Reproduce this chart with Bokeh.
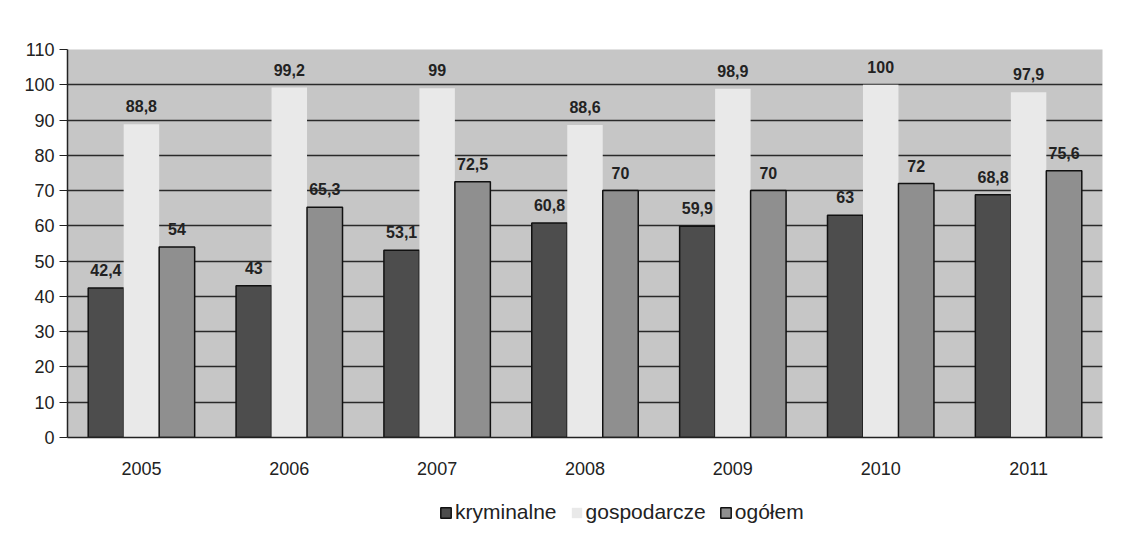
from bokeh.plotting import figure
from bokeh.layouts import column
from bokeh.models import ColumnDataSource, Legend, LegendItem, LabelSet, FixedTicker
from bokeh.core.properties import value
from bokeh.transform import dodge
from bokeh.embed import file_html
from bokeh.resources import INLINE

years = ["2005", "2006", "2007", "2008", "2009", "2010", "2011"]
kryminalne = [42.4, 43, 53.1, 60.8, 59.9, 63, 68.8]
gospodarcze = [88.8, 99.2, 99, 88.6, 98.9, 100, 97.9]
ogolem = [54, 65.3, 72.5, 70, 70, 72, 75.6]
series_names = ["kryminalne", "gospodarcze", "ogółem"]

def fmt(v):
    return ("%g" % v).replace(".", ",")

src = ColumnDataSource(dict(
    years=years,
    k=kryminalne, g=gospodarcze, o=ogolem,
    kl=[fmt(v) for v in kryminalne],
    gl=[fmt(v) for v in gospodarcze],
    ol=[fmt(v) for v in ogolem],
))

K_STYLE = dict(fill_color="#4d4d4d", line_color="#111111", line_width=1.5)
G_STYLE = dict(fill_color="#e9e9e9", line_color=None)
O_STYLE = dict(fill_color="#8f8f8f", line_color="#111111", line_width=1.5)

p = figure(x_range=years, y_range=(0, 110), width=1105, height=477,
           output_backend="svg", toolbar_location=None,
           border_fill_color="#ffffff",
           min_border_left=67, min_border_right=3, min_border_top=49,
           min_border_bottom=40)

p.background_fill_color = "#c6c6c6"
p.outline_line_color = None

w = 0.24
off = 0.24
p.vbar(x=dodge("years", -off, range=p.x_range), top="k", width=w, source=src, **K_STYLE)
p.vbar(x=dodge("years", 0, range=p.x_range), top="g", width=w, source=src, **G_STYLE)
p.vbar(x=dodge("years", off, range=p.x_range), top="o", width=w, source=src, **O_STYLE)

for col, lab, dx in (("k", "kl", -off), ("g", "gl", 0), ("o", "ol", off)):
    p.add_layout(LabelSet(x=dodge("years", dx, range=p.x_range), y=col, text=lab,
                          source=src, text_align="center", y_offset=12,
                          text_font=value("Liberation Sans"), text_font_style="bold",
                          text_font_size="16px", text_color="#222222"))

p.yaxis.ticker = FixedTicker(ticks=list(range(0, 111, 10)))
p.ygrid.ticker = FixedTicker(ticks=list(range(0, 111, 10)))
p.ygrid.grid_line_color = "#2a2a2a"
p.ygrid.grid_line_width = 1.5
p.xgrid.grid_line_color = None

for ax in (p.xaxis, p.yaxis):
    ax.major_label_text_font = "Liberation Sans"
    ax.major_label_text_font_size = "18px"
    ax.major_label_text_color = "#222222"
    ax.axis_line_color = "#222222"
    ax.axis_line_width = 1.5
    ax.major_tick_line_color = "#222222"
    ax.major_tick_out = 8
    ax.major_tick_in = 0
    ax.minor_tick_line_color = None
p.xaxis.major_tick_line_color = None
p.xaxis.major_label_standoff = 16

# legend figure: swatch renderers hold no drawable data (NaN heights)
nan = float("nan")
lf = figure(width=1105, height=49, output_backend="svg", toolbar_location=None,
            x_range=(0, 1), y_range=(0, 1), min_border=0,
            border_fill_color="#ffffff", background_fill_color="#ffffff")
lf.axis.visible = False
lf.grid.visible = False
lf.outline_line_color = None
lk = lf.vbar(x=[0.5], top=[nan], bottom=[nan], width=0.1, **K_STYLE)
lg = lf.vbar(x=[0.5], top=[nan], bottom=[nan], width=0.1, **G_STYLE)
lo = lf.vbar(x=[0.5], top=[nan], bottom=[nan], width=0.1, **O_STYLE)

legend = Legend(items=[
    LegendItem(label=series_names[0], renderers=[lk]),
    LegendItem(label=series_names[1], renderers=[lg]),
    LegendItem(label=series_names[2], renderers=[lo]),
], orientation="horizontal", location=(372, 2),
    label_text_font="Liberation Sans", label_text_font_size="21px",
    label_text_color="#222222", glyph_width=13, glyph_height=13,
    spacing=13, label_standoff=3, border_line_color=None,
    background_fill_alpha=0, margin=0, padding=4)
lf.add_layout(legend, "center")

layout = column(p, lf, spacing=0)
open("out.html", "w").write(file_html(layout, INLINE))
